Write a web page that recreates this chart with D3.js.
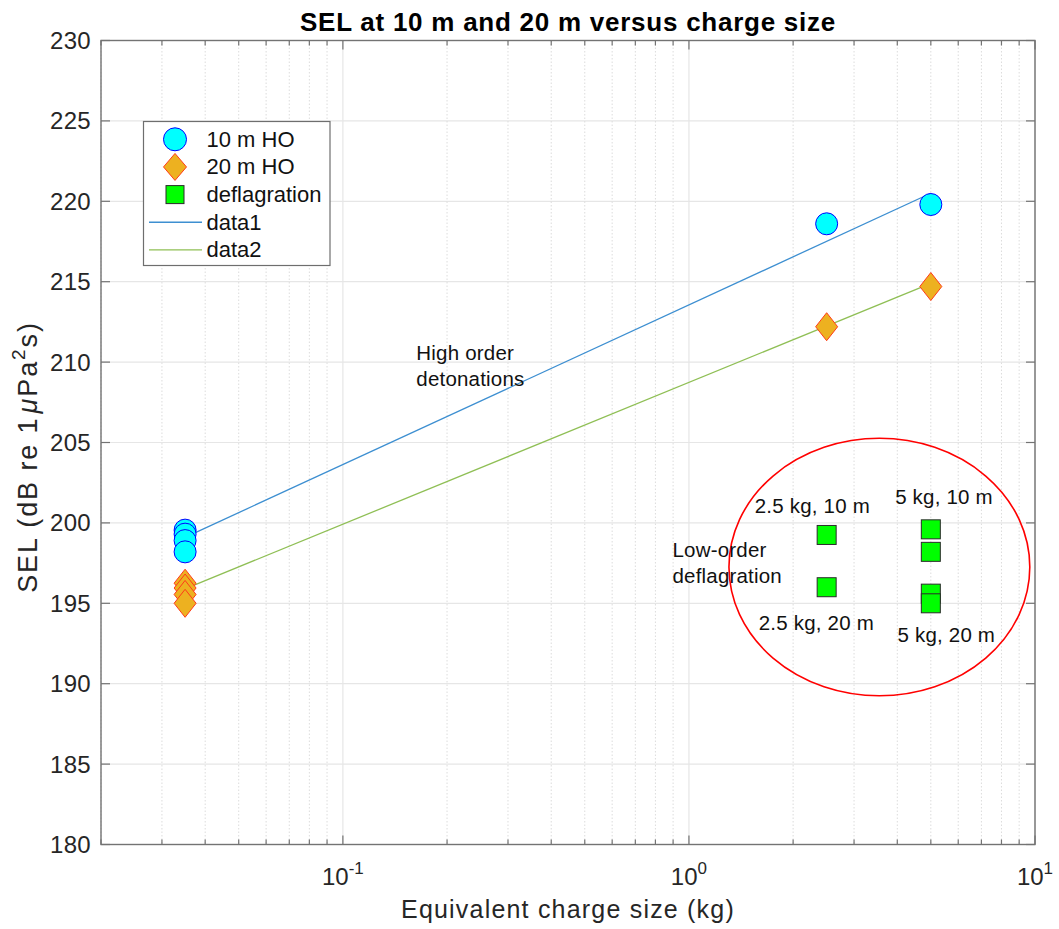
<!DOCTYPE html>
<html>
<head>
<meta charset="utf-8">
<script src="https://cdn.jsdelivr.net/npm/d3@7"></script>
<style>
  body { margin: 0; background: #fff; }
  text { font-family: "Liberation Sans", Arial, Helvetica, sans-serif; }
</style>
</head>
<body>
<svg id="chart" width="1059" height="929"></svg>
<script>
// SEL versus charge size - high order detonations and low-order deflagrations

// Data
const hoCharge = [0.035, 0.035, 0.035, 0.035, 2.5, 5];
const sel10m = [199.55, 199.3, 198.9, 198.2, 218.6, 219.8];
const sel20m = [196.25, 195.95, 195.55, 195.0, 212.2, 214.7];
const deflCharge = [2.5, 2.5, 5, 5, 5, 5];
const deflSEL = [199.25, 196.0, 199.6, 198.2, 195.6, 195.0];
const fitCharge = [0.035, 5];
const fit10m = [199.1, 220.5];
const fit20m = [195.9, 214.9];

const yTicks = [180, 185, 190, 195, 200, 205, 210, 215, 220, 225, 230];
const xDomain = [0.02, 10];
const yDomain = [180, 230];
const legendLabels = ['10 m HO', '20 m HO', 'deflagration', 'data1', 'data2'];

// text annotations (data coordinates, first baseline)
const noteText = [['High order', 'detonations'], ['Low-order', 'deflagration'],
  ['2.5 kg, 10 m'], ['5 kg, 10 m'], ['2.5 kg, 20 m'], ['5 kg, 20 m']];
const noteX = [0.163, 0.896, 1.549, 3.943, 1.591, 4.004];
const noteY = [210.1, 197.85, 200.6, 201.18, 193.35, 192.6];

// circled region around the deflagration shots
const regionX = [1.305, 9.66];
const regionY = [189.25, 205.26];

// colours
const cCyan = '#00ffff', cBlue = '#0000ff';
const cOrange = '#edb120', cOrangeEdge = '#ff3b1a';
const cGreen = '#00ff00';
const cLine1 = '#3d8fd1', cLine2 = '#8fbf55';

const svg = d3.select('#chart');
const pLeft = 101, pRight = 1035, pTop = 40.5, pBottom = 844.5;

const x = d3.scaleLog().domain(xDomain).range([pLeft, pRight]);
const y = d3.scaleLinear().domain(yDomain).range([pBottom, pTop]);

const isDecade = function(v) {
	return Math.abs(Math.log10(v) - Math.round(Math.log10(v))) < 1e-9;
};
const xTicks = x.ticks();

// grid
const grid = svg.append('g');
grid.selectAll('.ygrid')
	.data(yTicks)
	.enter().append('line')
	.attr('x1', pLeft).attr('x2', pRight)
	.attr('y1', d => y(d)).attr('y2', d => y(d))
	.attr('stroke', '#e6e6e6').attr('stroke-width', 1.2);

grid.selectAll('.xgrid')
	.data(xTicks)
	.enter().append('line')
	.attr('x1', d => x(d)).attr('x2', d => x(d))
	.attr('y1', pTop).attr('y2', pBottom)
	.attr('stroke', d => isDecade(d) ? '#e6e6e6' : '#dcdcdc')
	.attr('stroke-width', d => isDecade(d) ? 1.2 : 1)
	.attr('stroke-dasharray', d => isDecade(d) ? null : '1.5,2');

// axes box and ticks
const axisColor = '#737373';
const axes = svg.append('g');
axes.append('rect')
	.attr('x', pLeft).attr('y', pTop)
	.attr('width', pRight - pLeft).attr('height', pBottom - pTop)
	.attr('fill', 'none').attr('stroke', axisColor).attr('stroke-width', 1.4);

// y ticks both sides
yTicks.forEach(function(t) {
	axes.append('line').attr('x1', pLeft).attr('x2', pLeft + 9)
		.attr('y1', y(t)).attr('y2', y(t)).attr('stroke', axisColor).attr('stroke-width', 1.2);
	axes.append('line').attr('x1', pRight).attr('x2', pRight - 9)
		.attr('y1', y(t)).attr('y2', y(t)).attr('stroke', axisColor).attr('stroke-width', 1.2);
});
// x ticks top and bottom
xTicks.forEach(function(t) {
	const len = isDecade(t) ? 9 : 5;
	axes.append('line').attr('x1', x(t)).attr('x2', x(t))
		.attr('y1', pBottom).attr('y2', pBottom - len).attr('stroke', axisColor).attr('stroke-width', 1.2);
	axes.append('line').attr('x1', x(t)).attr('x2', x(t))
		.attr('y1', pTop).attr('y2', pTop + len).attr('stroke', axisColor).attr('stroke-width', 1.2);
});

// tick labels
svg.selectAll('.ylab')
	.data(yTicks)
	.enter().append('text')
	.attr('x', pLeft - 10).attr('y', d => y(d) + 8.5)
	.attr('text-anchor', 'end')
	.attr('font-size', 24).attr('letter-spacing', 0.3).attr('fill', '#262626')
	.text(d => d);

const xLab = svg.selectAll('.xlab')
	.data(xTicks.filter(isDecade))
	.enter().append('text')
	.attr('x', d => x(d)).attr('y', 885)
	.attr('text-anchor', 'middle')
	.attr('font-size', 24).attr('fill', '#262626');
xLab.append('tspan').text('10');
xLab.append('tspan').attr('dy', -11).attr('font-size', 17)
	.text(d => Math.round(Math.log10(d)));

// axis labels and title
svg.append('text')
	.attr('x', (pLeft + pRight) / 2).attr('y', 918)
	.attr('text-anchor', 'middle').attr('font-size', 25).attr('letter-spacing', 1.2)
	.attr('fill', '#262626')
	.text('Equivalent charge size (kg)');

const yl = svg.append('text')
	.attr('transform', 'translate(37,457) rotate(-90)')
	.attr('text-anchor', 'middle').attr('font-size', 27).attr('letter-spacing', 1.9)
	.attr('fill', '#262626');
yl.append('tspan').text('SEL (dB re 1');
yl.append('tspan').attr('font-style', 'italic').attr('dx', 3).text('\u03bc');
yl.append('tspan').text('Pa');
yl.append('tspan').attr('dy', -12).attr('font-size', 19).text('2');
yl.append('tspan').attr('dy', 12).text('s)');

svg.append('text')
	.attr('x', (pLeft + pRight) / 2).attr('y', 31)
	.attr('text-anchor', 'middle').attr('font-size', 26).attr('font-weight', 'bold')
	.attr('letter-spacing', 0.75).attr('fill', '#000')
	.text('SEL at 10 m and 20 m versus charge size');

// fit lines
const line = d3.line().x(d => x(d[0])).y(d => y(d[1]));
svg.append('path')
	.datum(d3.zip(fitCharge, fit10m))
	.attr('d', line).attr('fill', 'none').attr('stroke', cLine1).attr('stroke-width', 1.3);
svg.append('path')
	.datum(d3.zip(fitCharge, fit20m))
	.attr('d', line).attr('fill', 'none').attr('stroke', cLine2).attr('stroke-width', 1.3);

// markers
function diamondPath(cx, cy, w, h) {
	return 'M' + cx + ',' + (cy - h) + 'L' + (cx + w) + ',' + cy +
		'L' + cx + ',' + (cy + h) + 'L' + (cx - w) + ',' + cy + 'Z';
}

svg.selectAll('.ho10')
	.data(d3.zip(hoCharge, sel10m))
	.enter().append('circle')
	.attr('cx', d => x(d[0])).attr('cy', d => y(d[1])).attr('r', 11)
	.attr('fill', cCyan).attr('stroke', cBlue).attr('stroke-width', 1);

svg.selectAll('.ho20')
	.data(d3.zip(hoCharge, sel20m))
	.enter().append('path')
	.attr('d', d => diamondPath(x(d[0]), y(d[1]), 11, 14))
	.attr('fill', cOrange).attr('stroke', cOrangeEdge).attr('stroke-width', 1);

svg.selectAll('.defl')
	.data(d3.zip(deflCharge, deflSEL))
	.enter().append('rect')
	.attr('x', d => x(d[0]) - 9.5).attr('y', d => y(d[1]) - 9.5)
	.attr('width', 19).attr('height', 19)
	.attr('fill', cGreen).attr('stroke', '#2b2b2b').attr('stroke-width', 1);

// circled region
svg.append('ellipse')
	.attr('cx', (x(regionX[0]) + x(regionX[1])) / 2)
	.attr('cy', (y(regionY[0]) + y(regionY[1])) / 2)
	.attr('rx', (x(regionX[1]) - x(regionX[0])) / 2)
	.attr('ry', (y(regionY[0]) - y(regionY[1])) / 2)
	.attr('fill', 'none').attr('stroke', '#ff0000').attr('stroke-width', 1.6);

// annotations
noteText.forEach(function(lines, i) {
	const t = svg.append('text')
		.attr('x', x(noteX[i])).attr('y', y(noteY[i]))
		.attr('font-size', 20.5).attr('letter-spacing', 0.2).attr('fill', '#111');
	lines.forEach(function(s, j) {
		t.append('tspan').attr('x', x(noteX[i])).attr('dy', j === 0 ? 0 : 26).text(s);
	});
});

// legend
const lg = svg.append('g');
lg.append('rect')
	.attr('x', 143.5).attr('y', 121.5).attr('width', 186.5).attr('height', 144)
	.attr('fill', '#fff').attr('stroke', '#6e6e6e').attr('stroke-width', 1.2);
const rowY = d3.range(legendLabels.length).map(i => 139.3 + i * 27.65);
const mx = 175;
lg.append('circle').attr('cx', mx).attr('cy', rowY[0]).attr('r', 11.5)
	.attr('fill', cCyan).attr('stroke', cBlue).attr('stroke-width', 1);
lg.append('path').attr('d', diamondPath(mx, rowY[1], 11.5, 13.5))
	.attr('fill', cOrange).attr('stroke', cOrangeEdge).attr('stroke-width', 1);
lg.append('rect').attr('x', mx - 9).attr('y', rowY[2] - 9).attr('width', 18).attr('height', 18)
	.attr('fill', cGreen).attr('stroke', '#2b2b2b').attr('stroke-width', 1);
lg.append('line').attr('x1', 149).attr('x2', 202).attr('y1', rowY[3]).attr('y2', rowY[3])
	.attr('stroke', cLine1).attr('stroke-width', 1.3);
lg.append('line').attr('x1', 149).attr('x2', 202).attr('y1', rowY[4]).attr('y2', rowY[4])
	.attr('stroke', cLine2).attr('stroke-width', 1.3);
lg.selectAll('.lgtext')
	.data(legendLabels)
	.enter().append('text')
	.attr('x', 206.5).attr('y', (d, i) => rowY[i] + 7.5)
	.attr('font-size', 22).attr('fill', '#111')
	.text(d => d);
</script>
</body>
</html>
